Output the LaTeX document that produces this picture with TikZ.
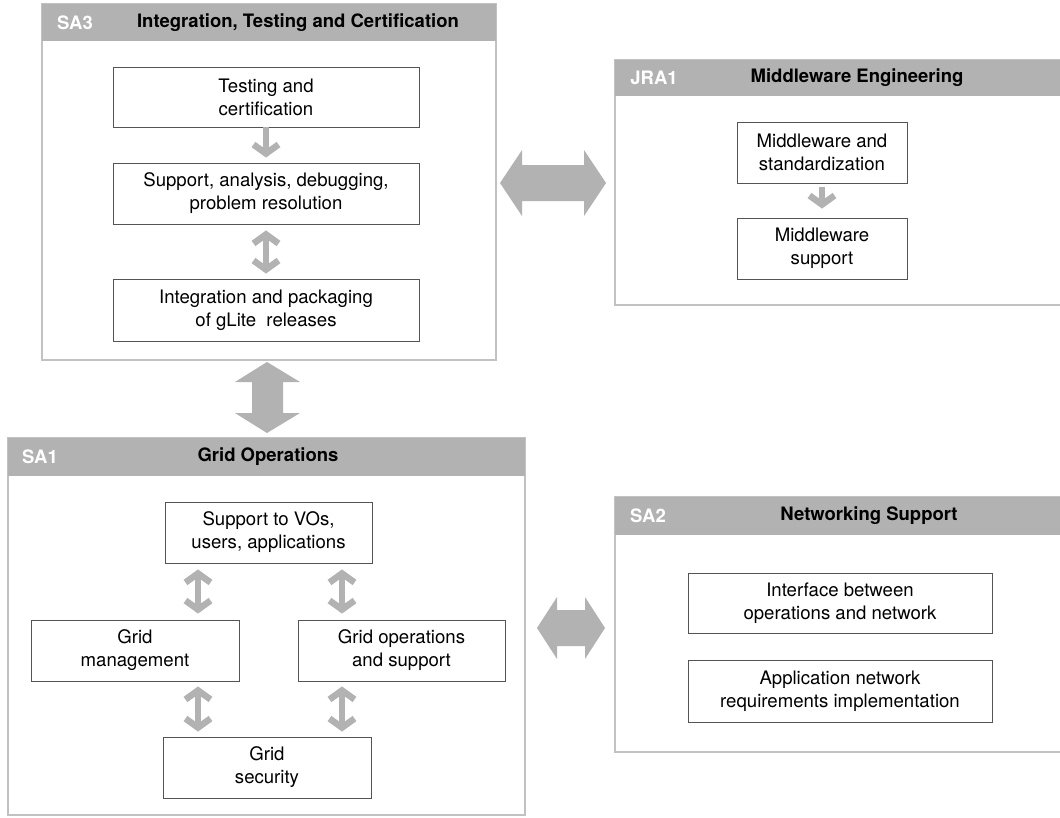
\documentclass[tikz,border=0pt]{standalone}
\usepackage{fontspec}
\setmainfont{TeX Gyre Heros}
\usetikzlibrary{arrows.meta}
\definecolor{hdr}{gray}{0.70}
\definecolor{frm}{gray}{0.76}
\definecolor{arw}{gray}{0.70}
\definecolor{bx}{gray}{0.33}
\begin{document}
\begin{tikzpicture}[x=1pt,y=-1pt,
  frame/.style={draw=frm,line width=1.6pt,fill=white},
  header/.style={fill=hdr},
  hlabel/.style={text=white,font=\fontsize{18.5}{22}\selectfont\bfseries,inner sep=0pt},
  htitle/.style={text=black,font=\fontsize{18.5}{22}\selectfont\bfseries,inner sep=0pt},
  item/.style={draw=bx,line width=0.9pt,fill=white,align=center,
    font=\fontsize{18.6}{23}\selectfont,inner sep=0pt},
  sarr/.style={draw=arw,line width=6.5pt,
    -{Straight Barb[length=9pt,width=25pt,line width=6.5pt]}},
  darr/.style={draw=arw,line width=6.5pt,
    {Straight Barb[length=9pt,width=25pt,line width=6.5pt]}-{Straight Barb[length=9pt,width=25pt,line width=6.5pt]}},
  bigarr/.style={fill=arw,draw=none}
]
\useasboundingbox (0,0) rectangle (1060,817);
\clip (0,0) rectangle (1060,817);
\fill[white] (0,0) rectangle (1060,817);

% ---------------- SA3 ----------------
\draw[frame] (42,4) rectangle (496,360);
\fill[header] (42,4) rectangle (496,41);
\node[hlabel] (sa3l) at (75,22.5) {SA3};
\node[htitle] (sa3t) at (298,22.5) {Integration, Testing and Certification};

\node[item,minimum width=306pt,minimum height=60pt] (t1) at (266,97) {Testing and\\certification};
\node[item,minimum width=306pt,minimum height=61pt] (t2) at (266,193.5) {Support, analysis, debugging,\\problem resolution};
\node[item,minimum width=306pt,minimum height=62pt] (t3) at (266,310) {Integration and packaging\\of gLite\ \ releases};
\draw[sarr,shorten >=5pt] (t1) -- (t2);
\draw[darr,shorten >=5pt,shorten <=6pt] (t2) -- (t3);

% big vertical arrow SA3 <-> SA1
\path[bigarr] (267,362) -- (300,382) -- (283,382) -- (283,413) -- (300,413)
  -- (267,433) -- (235,413) -- (252,413) -- (252,382) -- (235,382) -- cycle;

% ---------------- JRA1 ----------------
\draw[frame] (615,60) rectangle (1070,305);
\fill[header] (615,60) rectangle (1070,96);
\node[hlabel] (jral) at (654,78) {JRA1};
\node[htitle] (jrat) at (857,78) {Middleware Engineering};

\node[item,minimum width=170pt,minimum height=61pt] (m1) at (822,152.5) {Middleware and\\standardization};
\node[item,minimum width=170pt,minimum height=61pt] (m2) at (822,248.5) {Middleware\\support};
\draw[sarr,shorten >=9pt,shorten <=4pt] (m1) -- (m2);

% big horizontal arrow SA3 <-> JRA1
\path[bigarr] (500,183) -- (522,150) -- (522,165) -- (584,165) -- (584,150)
  -- (606,183) -- (584,216) -- (584,201) -- (522,201) -- (522,216) -- cycle;

% ---------------- SA1 ----------------
\draw[frame] (8,438) rectangle (525,815);
\fill[header] (8,438) rectangle (525,476);
\node[hlabel] (sa1l) at (40,457) {SA1};
\node[htitle] (sa1t) at (268,457) {Grid Operations};

\node[item,minimum width=207pt,minimum height=61pt] (sup) at (268.5,532.5) {Support to VOs,\\users, applications};
\node[item,minimum width=208pt,minimum height=61pt] (gm) at (135,650.5) {Grid\\management};
\node[item,minimum width=207pt,minimum height=61pt] (go) at (401.5,650.5) {Grid operations\\and support};
\node[item,minimum width=208pt,minimum height=61pt] (gs) at (267,767.5) {Grid\\security};

\coordinate (xl) at (198,0);
\coordinate (xr) at (342,0);
\draw[darr,shorten >=6pt,shorten <=6pt] (sup.south -| xl) -- (gm.north -| xl);
\draw[darr,shorten >=6pt,shorten <=6pt] (sup.south -| xr) -- (go.north -| xr);
\draw[darr,shorten >=5pt,shorten <=5pt] (gm.south -| xl) -- (gs.north -| xl);
\draw[darr,shorten >=5pt,shorten <=5pt] (go.south -| xr) -- (gs.north -| xr);

% ---------------- SA2 ----------------
\draw[frame] (615,497) rectangle (1070,752);
\fill[header] (615,497) rectangle (1070,535);
\node[hlabel] (sa2l) at (648,516) {SA2};
\node[htitle] (sa2t) at (869,516) {Networking Support};

\node[item,minimum width=304pt,minimum height=60pt] (n1) at (840,603) {Interface between\\operations and network};
\node[item,minimum width=304pt,minimum height=62pt] (n2) at (840,691) {Application network\\requirements implementation};

% horizontal arrow SA1 <-> SA2
\path[bigarr] (537,628) -- (557,597) -- (557,610) -- (585,610) -- (585,597)
  -- (605,628) -- (585,659) -- (585,646) -- (557,646) -- (557,659) -- cycle;
\end{tikzpicture}
\end{document}
